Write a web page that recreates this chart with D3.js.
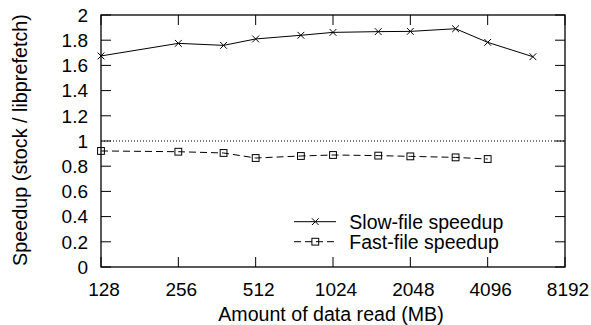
<!DOCTYPE html>
<html>
<head>
<meta charset="utf-8">
<script src="https://cdn.jsdelivr.net/npm/d3@7"></script>
<style>
  html, body { margin: 0; padding: 0; background: #fff; }
  svg { display: block; font-family: "Liberation Sans", Arial, sans-serif; }
</style>
</head>
<body>
<svg id="chart" width="591" height="325"></svg>
<script>
// data
const sizesMB = [128, 256, 384, 512, 768, 1024, 1536, 2048, 3072, 4096, 6144];
const slowSpeedup = [1.675, 1.775, 1.759, 1.81, 1.839, 1.862, 1.868, 1.870, 1.891, 1.783, 1.669];
const fastSpeedup = [0.921, 0.915, 0.905, 0.865, 0.881, 0.889, 0.884, 0.878, 0.870, 0.857];
const xTicks = [128, 256, 512, 1024, 2048, 4096, 8192];
const yTicks = [0, 0.2, 0.4, 0.6, 0.8, 1, 1.2, 1.4, 1.6, 1.8, 2];
const seriesNames = ["Slow-file speedup", "Fast-file speedup"];

const plot = { left: 101, right: 565, top: 15, bottom: 267 };

const svg = d3.select("#chart");

const x = d3.scaleLog().base(2).domain([128, 8192]).range([plot.left, plot.right]);
const y = d3.scaleLinear().domain([0, 2]).range([plot.bottom, plot.top]);

const tickLen = 10;
const ax = svg.append("g").attr("stroke", "#000").attr("stroke-width", 1);

// inward ticks on all four sides (gnuplot style)
ax.selectAll("line.yl").data(yTicks).join("line")
  .attr("x1", plot.left).attr("x2", plot.left + tickLen)
  .attr("y1", d => y(d)).attr("y2", d => y(d));
ax.selectAll("line.yr").data(yTicks).join("line")
  .attr("x1", plot.right).attr("x2", plot.right - tickLen)
  .attr("y1", d => y(d)).attr("y2", d => y(d));
ax.selectAll("line.xb").data(xTicks).join("line")
  .attr("x1", d => x(d)).attr("x2", d => x(d))
  .attr("y1", plot.bottom).attr("y2", plot.bottom - tickLen);
ax.selectAll("line.xt").data(xTicks).join("line")
  .attr("x1", d => x(d)).attr("x2", d => x(d))
  .attr("y1", plot.top).attr("y2", plot.top + tickLen);

// frame
svg.append("rect")
  .attr("x", plot.left).attr("y", plot.top)
  .attr("width", plot.right - plot.left).attr("height", plot.bottom - plot.top)
  .attr("fill", "none").attr("stroke", "#000").attr("stroke-width", 1.3);

// tick labels
svg.append("g").selectAll("text").data(yTicks).join("text")
  .attr("x", 88).attr("y", d => y(d)).attr("dy", "0.36em")
  .attr("text-anchor", "end").attr("font-size", 19)
  .text(d => d3.format("~g")(d));

svg.append("g").selectAll("text").data(xTicks).join("text")
  .attr("x", d => x(d) + 3).attr("y", 296)
  .attr("text-anchor", "middle").attr("font-size", 19)
  .text(d => d);

// axis titles
svg.append("text")
  .attr("x", 331).attr("y", 320.5)
  .attr("text-anchor", "middle").attr("font-size", 19.6)
  .text("Amount of data read (MB)");
svg.append("text")
  .attr("transform", "translate(26.5,140) rotate(-90)")
  .attr("text-anchor", "middle").attr("font-size", 19.8)
  .text("Speedup (stock / libprefetch)");

// reference line at 1
svg.append("line")
  .attr("x1", plot.left).attr("x2", plot.right)
  .attr("y1", y(1)).attr("y2", y(1))
  .attr("stroke", "#000").attr("stroke-width", 1).attr("stroke-dasharray", "1,2");

const line = d3.line().x(d => x(d[0])).y(d => y(d[1]));
const slowPts = slowSpeedup.map((v, i) => [sizesMB[i], v]);
const fastPts = fastSpeedup.map((v, i) => [sizesMB[i], v]);

svg.append("path").datum(slowPts).attr("d", line)
  .attr("fill", "none").attr("stroke", "#000").attr("stroke-width", 1);
svg.append("path").datum(fastPts).attr("d", line)
  .attr("fill", "none").attr("stroke", "#000").attr("stroke-width", 1)
  .attr("stroke-dasharray", "7,4");

const ms = 3.4;
function cross(g, cx, cy) {
  g.append("path")
    .attr("d", `M${cx - ms},${cy - ms}L${cx + ms},${cy + ms}M${cx - ms},${cy + ms}L${cx + ms},${cy - ms}`)
    .attr("stroke", "#000").attr("stroke-width", 1).attr("fill", "none");
}
function square(g, cx, cy) {
  g.append("rect")
    .attr("x", cx - ms).attr("y", cy - ms).attr("width", 2 * ms).attr("height", 2 * ms)
    .attr("stroke", "#000").attr("stroke-width", 1).attr("fill", "none");
}

const marks = svg.append("g");
slowPts.forEach(p => cross(marks, x(p[0]), y(p[1])));
fastPts.forEach(p => square(marks, x(p[0]), y(p[1])));

// legend
const legend = svg.append("g");
const legY = [221.7, 241.7];
legY.forEach((ly, i) => {
  legend.append("line")
    .attr("x1", 294).attr("x2", 336).attr("y1", ly).attr("y2", ly)
    .attr("stroke", "#000").attr("stroke-width", 1)
    .attr("stroke-dasharray", i === 1 ? "7,4" : null);
  if (i === 0) cross(legend, 315.3, ly); else square(legend, 315.3, ly);
  legend.append("text")
    .attr("x", 349.3).attr("y", ly).attr("dy", "0.36em")
    .attr("font-size", 19.5)
    .text(seriesNames[i]);
});
</script>
</body>
</html>
